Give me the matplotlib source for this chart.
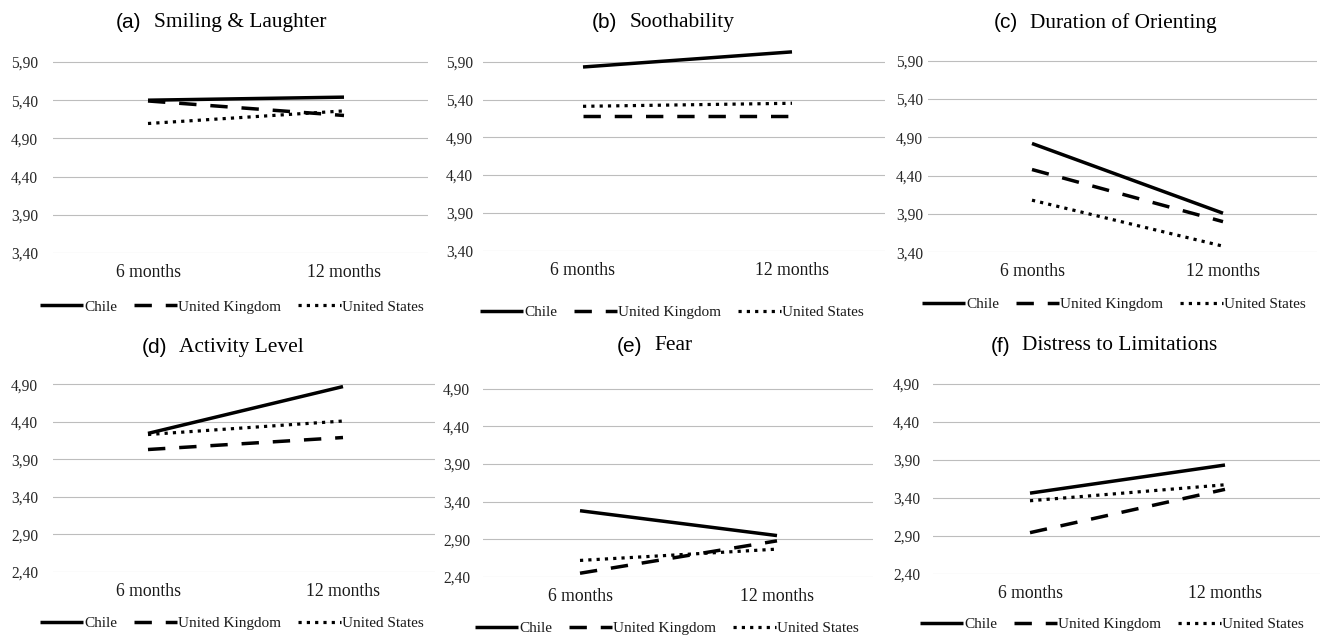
import matplotlib

matplotlib.use("Agg")

import matplotlib.pyplot as plt

periods = ["6 months", "12 months"]
countries = ["Chile", "United Kingdom", "United States"]
letters = ["(a)", "(b)", "(c)", "(d)", "(e)", "(f)"]
titles = ["Smiling & Laughter", "Soothability", "Duration of Orienting",
          "Activity Level", "Fear", "Distress to Limitations"]

# one pair (6 months, 12 months) per panel, panels a..f
chile = [[5.40, 5.44], [5.83, 6.03], [4.82, 3.91], [4.245, 4.87], [3.28, 2.95], [3.46, 3.83]]
uk = [[5.39, 5.20], [5.18, 5.18], [4.48, 3.80], [4.03, 4.19], [2.45, 2.88], [2.94, 3.51]]
us = [[5.095, 5.26], [5.31, 5.35], [4.08, 3.48], [4.23, 4.41], [2.62, 2.77], [3.36, 3.57]]

top_ticks = [3.40, 3.90, 4.40, 4.90, 5.40, 5.90]
bottom_ticks = [2.40, 2.90, 3.40, 3.90, 4.40, 4.90]

W, H = 1320, 636
# layout in pixels: left, right, y of lowest grid, y of highest grid,
# x of first category, x of second category, ytick pad
layout = [
    (53, 428, 253.0, 62.0, 148, 344, 15),
    (483, 885, 250.7, 61.7, 583, 792, 10),
    (928, 1317, 252.3, 60.7, 1032, 1223, 5),
    (53, 435, 571.7, 384.3, 148, 343, 15),
    (483, 873, 577.0, 388.7, 580, 777, 13),
    (933, 1320, 573.7, 383.7, 1030, 1225, 13),
]
title_pos = [(221, 23), (663, 23), (1105, 23), (223, 347), (655, 346), (1104, 346)]
legend_pos = [(232, 307), (672, 312), (1114, 304), (232, 623), (667, 628), (1112, 624)]

SERIF = "Liberation Serif"
SANS = "Liberation Sans"
plt.rcParams["font.family"] = SERIF

fig = plt.figure(figsize=(W / 100, H / 100), dpi=100)

styles = [
    dict(color="black", lw=2.5, linestyle="-", solid_capstyle="butt"),
    dict(color="black", lw=2.5, linestyle=(0, (5, 4)), dash_capstyle="butt"),
    dict(color="black", lw=2.3, linestyle=(0, (1, 1.6)), dash_capstyle="butt"),
]

title_pairs = []
for i in range(6):
    left, right, yb, yt, x0, x1, pad = layout[i]
    ticks = top_ticks if i < 3 else bottom_ticks
    lo, hi_grid = ticks[0], ticks[-1]
    hi = hi_grid + 0.15
    px_per_unit = (yb - yt) / (hi_grid - lo)
    top_px = yt - (hi - hi_grid) * px_per_unit
    ax = fig.add_axes([left / W, 1 - yb / H, (right - left) / W, (yb - top_px) / H])
    ax.set_ylim(lo, hi)
    ax.set_xlim((left - x0) / (x1 - x0), (right - x0) / (x1 - x0))

    for series, name, st in zip([chile, uk, us], countries, styles):
        ax.plot([0, 1], series[i], label=name, **st)

    ax.set_yticks(ticks)
    ax.set_yticklabels([f"{t:.2f}".replace(".", ",") for t in ticks])
    ax.set_xticks([0, 1])
    ax.set_xticklabels(periods)
    ax.tick_params(axis="y", length=0, pad=pad * 0.72, labelsize=11.2, colors="#262626")
    ax.tick_params(axis="x", length=0, pad=8, labelsize=12.7, colors="#1a1a1a")
    ax.grid(axis="y", color="#bdbdbd", lw=0.8)
    ax.set_axisbelow(True)
    for s in ax.spines.values():
        s.set_visible(False)

    cx, cy = legend_pos[i]
    ax.legend(loc="center", bbox_to_anchor=(cx / W, 1 - cy / H),
              bbox_transform=fig.transFigure, ncol=3, frameon=False,
              fontsize=11, handlelength=2.8, handletextpad=0.1,
              columnspacing=1.1, borderpad=0, borderaxespad=0,
              labelcolor="#1a1a1a")

    tx, ty = title_pos[i]
    t1 = fig.text(0, 1 - ty / H, letters[i], family=SANS, fontsize=15,
                  va="center", ha="left", color="black")
    t2 = fig.text(0, 1 - ty / H, titles[i], family=SERIF, fontsize=15.4,
                  va="center", ha="left", color="black")
    title_pairs.append((t1, t2, tx))

fig.canvas.draw()
renderer = fig.canvas.get_renderer()
gap = 12
for t1, t2, tx in title_pairs:
    w1 = t1.get_window_extent(renderer).width
    w2 = t2.get_window_extent(renderer).width
    start = tx - (w1 + gap + w2) / 2
    t1.set_x(start / W)
    t2.set_x((start + w1 + gap) / W)

fig.savefig("out.png", dpi=100)
